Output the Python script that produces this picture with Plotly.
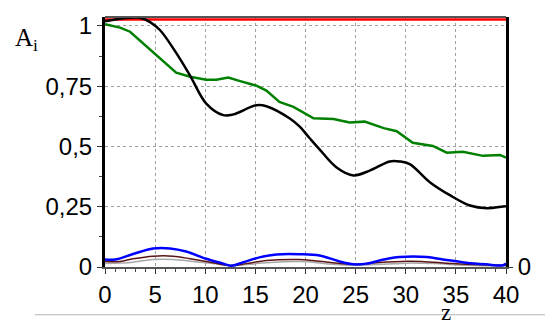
import plotly.graph_objects as go

# ---- data ----
z_black = [0, 1.5, 3.5, 4.5, 5.5, 7.1, 8.5, 10.1, 11.8, 12.8, 15.1, 16.1, 18.4, 19.4, 20.4, 21.4,
           23.1, 24.8, 26.4, 28.4, 29.4, 30.4, 32.4, 34.4, 36.4, 38.1, 39.7, 40]
a_black = [1.019, 1.03, 1.034, 1.016, 0.982, 0.888, 0.793, 0.678, 0.63, 0.633, 0.671, 0.667, 0.617,
           0.583, 0.535, 0.488, 0.413, 0.38, 0.4, 0.438, 0.438, 0.427, 0.352, 0.298, 0.255, 0.244,
           0.251, 0.252]

z_green = [0, 1.5, 2.5, 3.8, 5.1, 6.1, 7.1, 8.5, 10.1, 11.1, 12.3, 13.4, 15.1, 16.1, 17.4, 18.8,
           19.4, 20.8, 22.8, 24.4, 25.9, 27.8, 29.1, 30.7, 32.7, 34.1, 35.7, 37.7, 39.4, 40]
a_green = [1.007, 0.993, 0.976, 0.928, 0.881, 0.84, 0.806, 0.789, 0.777, 0.777, 0.786, 0.772, 0.752,
           0.732, 0.685, 0.664, 0.65, 0.617, 0.614, 0.599, 0.603, 0.576, 0.563, 0.515, 0.502, 0.474,
           0.478, 0.461, 0.465, 0.454]

z_blue = [0, 1, 2.8, 4.8, 6.5, 8.1, 10.1, 11.8, 12.6, 13.8, 15.5, 17.1, 19.4, 21.4, 23.4, 24.8,
          26.1, 27.8, 29.4, 32.1, 33.7, 36, 38, 39.7, 40]
a_blue = [0.031, 0.031, 0.054, 0.077, 0.077, 0.064, 0.034, 0.014, 0.005, 0.02, 0.041, 0.052, 0.053,
          0.048, 0.023, 0.011, 0.014, 0.031, 0.041, 0.041, 0.031, 0.018, 0.011, 0.007, 0.015]

z_brown = [0, 1.5, 2.8, 4.8, 6.8, 8.5, 10.5, 12.6, 14.1, 16.1, 19.4, 20.7, 22.7, 24.8, 27.1, 30.1,
           31.6, 34.1, 36, 40]
a_brown = [0.023, 0.023, 0.034, 0.045, 0.045, 0.034, 0.02, 0.006, 0.014, 0.027, 0.031, 0.027, 0.018,
           0.011, 0.018, 0.024, 0.023, 0.016, 0.011, 0.007]

z_gray = [0, 2.8, 4.8, 6.8, 8.8, 10.8, 12.6, 14.4, 16.1, 19.4, 21.1, 22.7, 24.8, 27.8, 30.1, 32.8,
          36, 40]
a_gray = [0.014, 0.02, 0.031, 0.031, 0.023, 0.014, 0.006, 0.011, 0.018, 0.023, 0.018, 0.011, 0.007,
          0.011, 0.016, 0.014, 0.007, 0.004]

z_red = [0, 40]
a_red = [1.027, 1.027]

x_ticks = [0, 5, 10, 15, 20, 25, 30, 35, 40]
y_ticks = [0, 0.25, 0.5, 0.75, 1]
y_ticklabels = ["0", "0,25", "0,5", "0,75", "1"]

YR = [0, 1.037]
TICKFONT = dict(family="Liberation Sans, Arial", size=24, color="black")

fig = go.Figure()
fig.add_trace(go.Scatter(x=z_gray, y=a_gray, mode="lines", line=dict(color="#a8a8a8", width=1.5, shape="spline")))
fig.add_trace(go.Scatter(x=z_brown, y=a_brown, mode="lines", line=dict(color="#5c1414", width=1.5, shape="spline")))
fig.add_trace(go.Scatter(x=z_blue, y=a_blue, mode="lines", line=dict(color="#0000ff", width=2.5, shape="spline")))
fig.add_trace(go.Scatter(x=z_green, y=a_green, mode="lines", line=dict(color="#008000", width=2.5)))
fig.add_trace(go.Scatter(x=z_red, y=a_red, mode="lines", line=dict(color="#ff0000", width=2.5)))
fig.add_trace(go.Scatter(x=z_black, y=a_black, mode="lines", line=dict(color="black", width=2.5, shape="spline")))
# invisible trace to activate right axis
fig.add_trace(go.Scatter(x=[0], y=[0], yaxis="y2", mode="markers", marker=dict(opacity=0), hoverinfo="skip"))

fig.update_layout(
    width=545, height=324,
    margin=dict(l=105, r=39, t=12, b=57),
    paper_bgcolor="white", plot_bgcolor="white",
    showlegend=False,
    xaxis=dict(range=[0, 40], tickvals=x_ticks, ticktext=[str(v) for v in x_ticks],
               tickfont=TICKFONT, ticks="outside", ticklen=5, tickcolor="#333",
               showline=True, linecolor="#555", linewidth=2,
               showgrid=True, gridcolor="#a0a0a0", griddash="dot", gridwidth=1,
               minor=dict(dtick=1, ticks="outside", ticklen=3, tickcolor="#444", showgrid=False),
               zeroline=False),
    yaxis=dict(range=YR, tickvals=y_ticks, ticktext=y_ticklabels,
               tickfont=TICKFONT, ticks="outside", ticklen=5, tickcolor="#333",
               showline=True, linecolor="black", linewidth=3,
               showgrid=True, gridcolor="#a0a0a0", griddash="dot", gridwidth=1,
               minor=dict(dtick=0.125, ticks="outside", ticklen=3, tickcolor="#444", showgrid=False),
               zeroline=False),
    yaxis2=dict(range=YR, overlaying="y", side="right", tickvals=[0], ticktext=["0"],
                tickfont=TICKFONT, ticks="outside", ticklen=4, tickcolor="#333",
                showline=True, linecolor="black", linewidth=3, showgrid=False, zeroline=False),
    annotations=[
        dict(text="A<sub>i</sub>", xref="paper", yref="paper", x=-0.195, y=0.91,
             xanchor="center", yanchor="middle",
             showarrow=False, font=dict(family="Liberation Serif", size=25, color="black")),
        dict(text="z", xref="paper", yref="paper", x=0.850, y=-0.182,
             xanchor="center", yanchor="middle",
             showarrow=False, font=dict(family="Liberation Serif", size=23, color="black")),
    ],
    shapes=[
        dict(type="line", xref="paper", yref="paper", x0=0, x1=1, y0=1, y1=1,
             line=dict(color="#555", width=2)),
        dict(type="line", xref="paper", yref="paper", x0=-0.175, x1=1.1, y0=-0.191, y1=-0.191,
             line=dict(color="#b4b4b4", width=1)),
    ],
)

fig.write_html("out.html")
